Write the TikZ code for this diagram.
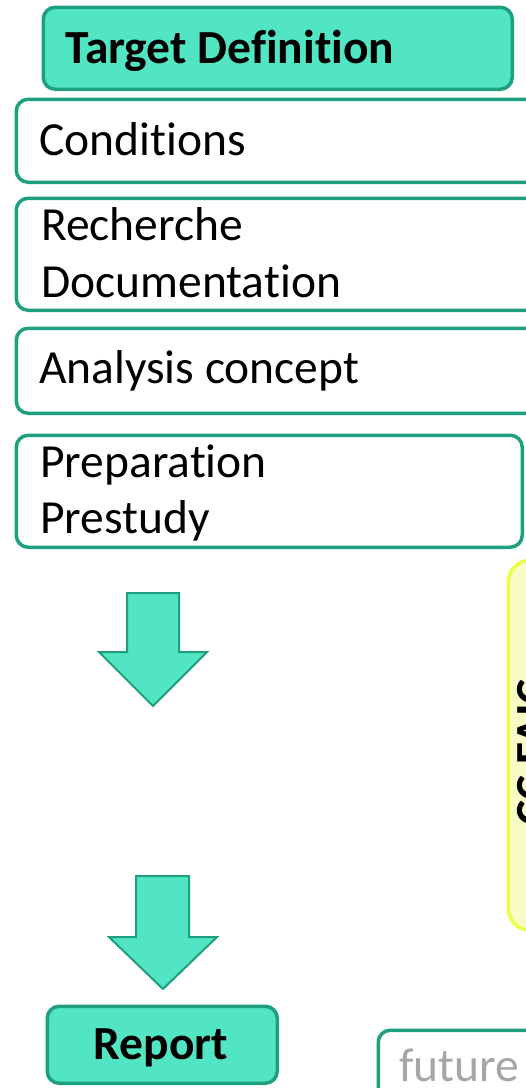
\documentclass[tikz,border=0pt]{standalone}
\usepackage{fontspec}
\setmainfont{Carlito}[RawFeature={-liga;-clig}]
\definecolor{stepFill}{RGB}{82,229,195}
\definecolor{stepLine}{RGB}{30,160,127}
\definecolor{noteFill}{RGB}{246,252,196}
\definecolor{noteLine}{RGB}{234,255,70}
\definecolor{hintGray}{RGB}{166,166,166}
\tikzset{
  boxbase/.style={draw=stepLine, line width=3.5pt, rounded corners=12pt,
    inner sep=0pt, anchor=north west},
  greenbox/.style={boxbase, fill=stepFill},
  whitebox/.style={boxbase, fill=white},
  notebox/.style={boxbase, draw=noteLine, fill=noteFill, rounded corners=22pt},
  lbl/.style={anchor=base west, inner sep=0pt, font=\fontsize{47.5}{56}\selectfont},
  boldlbl/.style={lbl, font=\fontsize{47.5}{56}\selectfont\bfseries},
  blockarrow/.style={draw=stepLine, fill=stepFill, line width=2pt, line join=miter}
}
\begin{document}
\begin{tikzpicture}[x=1pt,y=-1pt]
  \clip (0,0) rectangle (526,1088);
  \fill[white] (0,0) rectangle (526,1088);

  % stacked phase boxes
  \node[greenbox, minimum width=469pt, minimum height=82pt] (target) at (41.5,5.5) {};
  \node[boldlbl] (targetT) at (65,63) {Target Definition};

  \node[whitebox, minimum width=540pt, minimum height=83pt] (cond) at (14.5,97.5) {};
  \node[lbl] (condT) at (39,155) {Conditions};

  \node[whitebox, minimum width=540pt, minimum height=112pt] (rech) at (14.5,196.5) {};
  \node[lbl] (rechA) at (41,240) {Recherche};
  \node[lbl] (rechB) at (41,297) {Documentation};

  \node[whitebox, minimum width=540pt, minimum height=85pt] (anal) at (14.5,326.5) {};
  \node[lbl] (analT) at (39,383) {Analysis concept};

  \node[whitebox, minimum width=506pt, minimum height=112pt] (prep) at (14.5,433.5) {};
  \node[lbl] (prepA) at (40,477) {Preparation};
  \node[lbl] (prepB) at (40,533) {Prestudy};

  % side note with vertical text
  \node[notebox, minimum width=60pt, minimum height=370pt] (note) at (506.5,558.5) {};
  \node[boldlbl, rotate=90] (noteT) at (548,826) {CC FAIC};

  % flow arrows
  \draw[blockarrow] (127,593) -- (179,593) -- (179,652) -- (207,652) -- (153,706)
    -- (99,652) -- (127,652) -- cycle;
  \draw[blockarrow] (136,876) -- (189,876) -- (189,937) -- (217,937) -- (163,989)
    -- (109,937) -- (136,937) -- cycle;

  % final result
  \node[greenbox, minimum width=230pt, minimum height=77pt] (report) at (45.5,1004.5) {};
  \node[boldlbl, anchor=base] (reportT) at (161,1059) {Report};

  \node[whitebox, minimum width=200pt, minimum height=100pt] (future) at (376.5,1028.5) {};
  \node[lbl, text=hintGray] (futureT) at (399,1081) {future};
\end{tikzpicture}
\end{document}
